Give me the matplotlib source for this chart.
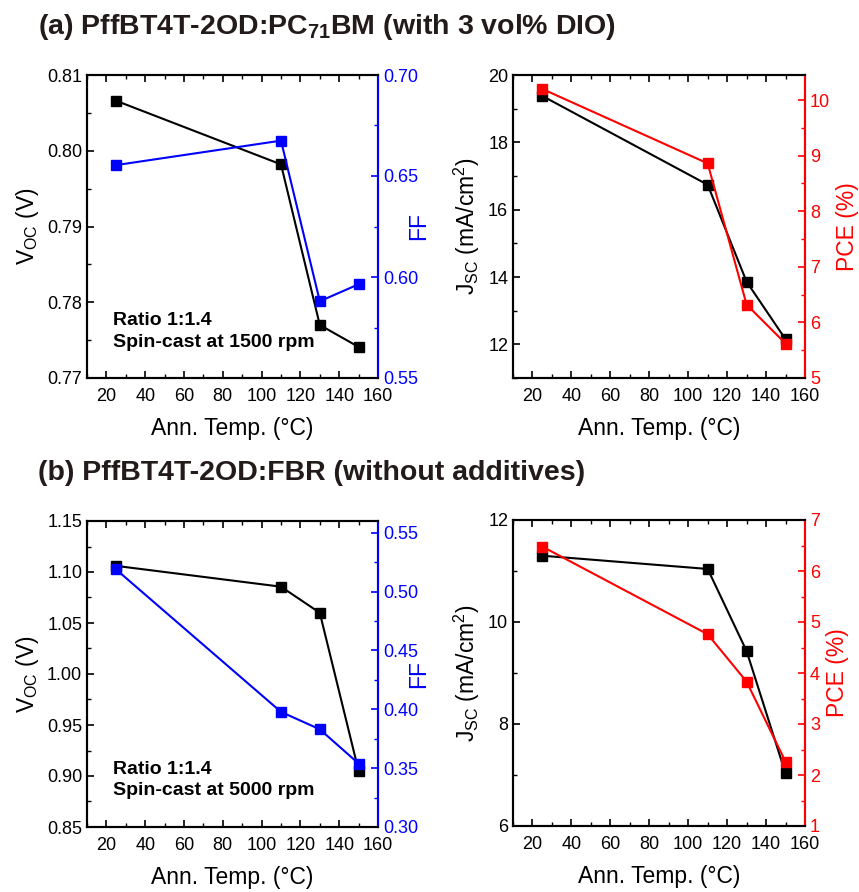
import numpy as np
import matplotlib
matplotlib.use("Agg")
import matplotlib.pyplot as plt
from matplotlib.ticker import MultipleLocator

plt.rcParams['font.family'] = ['Liberation Sans', 'DejaVu Sans']
plt.rcParams['mathtext.fontset'] = 'custom'
plt.rcParams['mathtext.rm'] = 'Liberation Sans'
plt.rcParams['mathtext.it'] = 'Liberation Sans'
plt.rcParams['mathtext.bf'] = 'Liberation Sans:bold'

temp = [25, 110, 130, 150]

# (a) PC71BM with DIO
voc_a = [0.8066, 0.7982, 0.7770, 0.7741]
ff_a = [0.6554, 0.6675, 0.5880, 0.5964]
jsc_a = [19.38, 16.74, 13.86, 12.15]
pce_a = [10.20, 8.86, 6.32, 5.62]

# (b) FBR without additives
voc_b = [1.106, 1.0856, 1.060, 0.905]
ff_b = [0.5188, 0.3978, 0.3830, 0.3539]
jsc_b = [11.30, 11.04, 9.43, 7.03]
pce_b = [6.48, 4.76, 3.83, 2.26]

BLUE = "#0000ff"
RED = "#ff0000"

fig = plt.figure(figsize=(8.59, 8.92), dpi=100)


def style_x(ax):
    ax.set_xlim(10, 160)
    ax.xaxis.set_major_locator(MultipleLocator(20))
    ax.xaxis.set_minor_locator(MultipleLocator(10))
    ax.tick_params(axis="x", which="both", direction="in", top=True, labelsize=13, pad=7)
    ax.tick_params(axis="x", which="major", length=5, width=1.2)
    ax.tick_params(axis="x", which="minor", length=3, width=1.0)
    ax.set_xlabel("Ann. Temp. (\u00b0C)", fontsize=16.5, labelpad=9)


def panel(rect, y1, y2, lim1, lim2, maj1, min1, maj2, min2, c2, lab1, lab2, fmt1, fmt2,
          pad2=4, note=None):
    ax = fig.add_axes(rect)
    ax2 = ax.twinx()
    ax.plot(temp, y1, "-s", color="black", lw=1.5, ms=7, zorder=3)
    ax2.plot(temp, y2, "-s", color=c2, lw=1.5, ms=7, zorder=3)
    style_x(ax)
    ax.set_ylim(*lim1)
    ax2.set_ylim(*lim2)
    ax.yaxis.set_major_locator(MultipleLocator(maj1))
    ax.yaxis.set_minor_locator(MultipleLocator(min1))
    ax2.yaxis.set_major_locator(MultipleLocator(maj2))
    ax2.yaxis.set_minor_locator(MultipleLocator(min2))
    ax.yaxis.set_major_formatter(plt.FormatStrFormatter(fmt1))
    ax2.yaxis.set_major_formatter(plt.FormatStrFormatter(fmt2))
    ax.tick_params(axis="y", which="both", direction="in", labelsize=13, right=False)
    ax.tick_params(axis="y", which="major", length=5, width=1.2)
    ax.tick_params(axis="y", which="minor", length=3, width=1.0)
    ax2.tick_params(axis="y", which="both", direction="in", labelsize=13, colors=c2)
    ax2.tick_params(axis="y", which="major", length=5, width=1.2)
    ax2.tick_params(axis="y", which="minor", length=3, width=1.0)
    for s in ax.spines.values():
        s.set_linewidth(1.5)
    for s in ax2.spines.values():
        s.set_linewidth(1.5)
    ax2.spines["right"].set_color(c2)
    ax.set_ylabel(lab1, fontsize=16.5, labelpad=4)
    ax2.set_ylabel(lab2, fontsize=16.5, color=c2, labelpad=pad2)
    if note:
        ax.text(0.09, 0.09, note, transform=ax.transAxes, fontsize=14,
                fontweight="bold", ha="left", va="bottom", linespacing=1.35)
    return ax, ax2


W, H = 859, 892
fr = lambda l, t, r, b: [l / W, 1 - b / H, (r - l) / W, (b - t) / H]

note_a = "Ratio 1:1.4\nSpin-cast at 1500 rpm"
note_b = "Ratio 1:1.4\nSpin-cast at 5000 rpm"

panel(fr(87, 75, 378, 378), voc_a, ff_a, (0.77, 0.81), (0.55, 0.70),
      0.01, 0.005, 0.05, 0.025, BLUE, r"V$_{\rm OC}$ (V)", "FF", "%.2f", "%.2f",
      pad2=-8, note=note_a)
panel(fr(513, 75, 805, 378), jsc_a, pce_a, (11, 20), (5, 10.45),
      2, 1, 1, 0.5, RED, r"J$_{\rm SC}$ (mA/cm$^2$)", "PCE (%)", "%d", "%d")
panel(fr(87, 521, 378, 827), voc_b, ff_b, (0.85, 1.15), (0.30, 0.56),
      0.05, 0.025, 0.05, 0.025, BLUE, r"V$_{\rm OC}$ (V)", "FF", "%.2f", "%.2f",
      pad2=-8, note=note_b)
panel(fr(513, 520, 805, 826), jsc_b, pce_b, (6, 12), (1, 7),
      2, 1, 1, 0.5, RED, r"J$_{\rm SC}$ (mA/cm$^2$)", "PCE (%)", "%d", "%d")

fig.text(38 / W, 1 - 27 / H, r"(a) PffBT4T-2OD:PC$_{\mathbf{71}}$BM (with 3 vol% DIO)",
         fontsize=20.5, fontweight="bold", color="#231a1a", ha="left", va="center")
fig.text(38 / W, 1 - 473 / H, "(b) PffBT4T-2OD:FBR (without additives)",
         fontsize=20.5, fontweight="bold", color="#231a1a", ha="left", va="center")

fig.savefig("out.png", dpi=100)
